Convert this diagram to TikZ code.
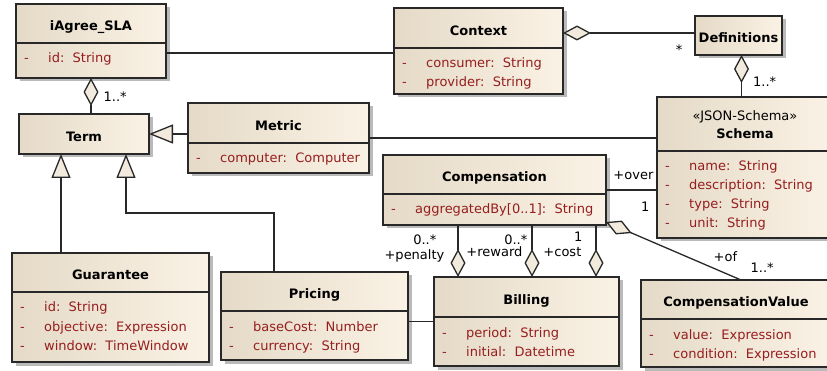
\documentclass[tikz,border=0pt]{standalone}
\usepackage{fontspec}
\setmainfont{DejaVu Sans}
\usetikzlibrary{positioning,calc,arrows.meta,shadows}
\definecolor{clsleft}{RGB}{229,218,199}
\definecolor{clsright}{RGB}{250,242,229}
\definecolor{attrred}{RGB}{150,30,30}
\definecolor{framegray}{RGB}{40,40,40}
\definecolor{tipfill}{RGB}{242,234,220}

% class box: name, top-left corner, width, height, header height, title
\newcommand{\umlclass}[6]{%
  \node[umlbox, minimum width=#3pt, minimum height=#4pt] (#1) at #2 {};
  \node[umltitle] at ($(#1.north)+(0,#5/2+2.5)$) {#6};}
% divider under the header and one row per attribute
\newcommand{\umlattrs}[3]{%
  \draw[umlline] ($(#1.north west)+(0,#2)$) -- ($(#1.north east)+(0,#2)$);
  \foreach \txt [count=\k from 0] in {#3} {
    \node[umlattr] at ($(#1.north west)+(8,#2+20+19*\k)$) {-};
    \node[umlattr] at ($(#1.north west)+(32,#2+20+19*\k)$) {\txt};}}

\tikzset{
  umlbox/.style={draw=framegray, line width=1.4pt, left color=clsleft, right color=clsright,
    anchor=north west, inner sep=0pt, outer sep=0pt,
    drop shadow={shadow xshift=3.5pt, shadow yshift=-3.5pt, fill=black!45, opacity=0.6}},
  umlline/.style={draw=framegray, line width=1.4pt},
  umltitle/.style={font=\bfseries\fontsize{13}{16}\selectfont, inner sep=0pt,
    text height=9.5pt, text depth=0pt},
  umlstereo/.style={umltitle, font=\fontsize{13}{16}\selectfont},
  umlattr/.style={anchor=base west, inner sep=0pt, text=attrred, font=\fontsize{13}{16}\selectfont},
  lbl/.style={inner sep=0pt, font=\fontsize{13}{16}\selectfont},
  assoc/.style={draw=framegray, line width=1.3pt},
  agg/.style={assoc, -{Diamond[length=28pt, width=15pt, fill=tipfill, line width=1.3pt]}},
  gen/.style={assoc, -{Triangle[length=24pt, width=19pt, fill=tipfill, line width=1.3pt]}}
}

\begin{document}
\begin{tikzpicture}[x=1pt, y=-1pt]
  \useasboundingbox (0,0) rectangle (827,371);

  % classes
  \umlclass{sla}{(16,4)}{150}{74}{39}{iAgree\_SLA}
  \umlattrs{sla}{39}{{id:\ \ String}}
  \umlclass{term}{(19,114)}{130}{40}{40}{Term}
  \umlclass{metric}{(188,103)}{181}{70}{40}{Metric}
  \umlattrs{metric}{40}{{computer:\ \ Computer}}
  \umlclass{context}{(394,8)}{169}{86}{40}{Context}
  \umlattrs{context}{40}{{consumer:\ \ String},{provider:\ \ String}}
  \umlclass{defs}{(695,16)}{87}{39}{39}{Definitions}
  \umlclass{schema}{(657,97)}{176}{141}{54}{}
  \node[umlstereo] at ($(schema.north)+(0,19)$) {«JSON-Schema»};
  \node[umltitle] at ($(schema.north)+(0,37)$) {Schema};
  \umlattrs{schema}{54}{{name:\ \ String},{description:\ \ String},{type:\ \ String},{unit:\ \ String}}
  \umlclass{comp}{(383,155)}{223}{70}{39}{Compensation}
  \umlattrs{comp}{39}{{aggregatedBy[0..1]:\ \ String}}
  \umlclass{guar}{(12,253)}{197}{109}{39}{Guarantee}
  \umlattrs{guar}{39}{{id:\ \ String},{objective:\ \ Expression},{window:\ \ TimeWindow}}
  \umlclass{pricing}{(221,272)}{187}{88}{39}{Pricing}
  \umlattrs{pricing}{39}{{baseCost:\ \ Number},{currency:\ \ String}}
  \umlclass{billing}{(434,277)}{185}{89}{40}{Billing}
  \umlattrs{billing}{40}{{period:\ \ String},{initial:\ \ Datetime}}
  \umlclass{compval}{(641,280)}{190}{87}{39}{CompensationValue}
  \umlattrs{compval}{39}{{value:\ \ Expression},{condition:\ \ Expression}}

  % helper points on the box edges
  \coordinate (cw) at ($(context.west)+(0,2)$);
  \coordinate (dw) at ($(defs.west)+(0,-2.5)$);
  \coordinate (dd) at ($(defs.south)+(3,0)$);
  \coordinate (tg) at ($(term.south west)+(42,0)$);
  \coordinate (tp) at ($(term.south west)+(107,0)$);
  \coordinate (pen) at ($(billing.north west)+(24,0)$);
  \coordinate (rew) at ($(billing.north west)+(98,0)$);
  \coordinate (cst) at ($(billing.north west)+(162,0)$);

  % associations
  \draw[assoc] (sla.east |- cw) -- (cw);
  \draw[assoc] (metric.east) -- (metric.east -| schema.west);
  \draw[assoc] (billing.west) -- (billing.west -| pricing.east);
  \draw[assoc] (comp.east) -- (comp.east -| schema.west)
    node[lbl, pos=1, anchor=south east, xshift=-3pt, yshift=10pt] {+over}
    node[lbl, pos=1, anchor=north east, xshift=-7pt, yshift=-11pt] {1};

  % aggregations
  \draw[agg] (term.north -| sla.south) -- (sla.south)
    node[lbl, pos=0.47, anchor=west, xshift=12pt] {1..*};
  \draw[agg] (dw) -- (dw -| context.east)
    node[lbl, pos=0, anchor=north east, xshift=-12pt, yshift=-11.5pt] {*};
  \draw[agg] (dd |- schema.north) -- (dd)
    node[lbl, pos=0.36, anchor=west, xshift=11pt] {1..*};
  \draw[agg] (pen |- comp.south) -- (pen)
    node[lbl, pos=0.29, left=21pt] {0..*}
    node[lbl, pos=0.6, left=13pt] {+penalty};
  \draw[agg] (rew |- comp.south) -- (rew)
    node[lbl, pos=0.29, left=4pt] {0..*}
    node[lbl, pos=0.52, left=9pt] {+reward};
  \draw[agg] (cst |- comp.south) -- (cst)
    node[lbl, pos=0.23, left=13pt] {1}
    node[lbl, pos=0.52, left=14pt] {+cost};
  \draw[agg] ($(compval.north)+(5,0)$) -- ($(comp.south east)+(0,-3)$)
    node[lbl, pos=0.2, anchor=south west, xshift=-1pt, yshift=6pt] {+of}
    node[lbl, pos=0, anchor=south west, xshift=9pt, yshift=7pt] {1..*};

  % generalisations
  \draw[gen] (metric.west |- term.east) -- (term.east);
  \draw[gen] (guar.north -| tg) -- (tg);
  \draw[gen] ($(pricing.north west)+(53,0)$) -- ++(0,-59) -| (tp);
\end{tikzpicture}
\end{document}
